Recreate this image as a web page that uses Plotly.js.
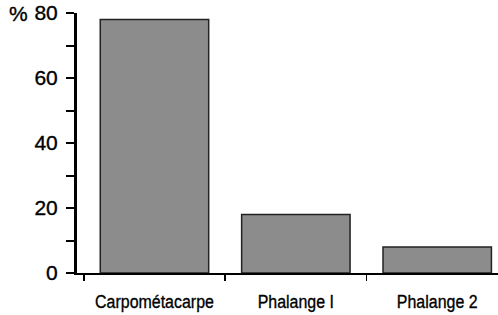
<!DOCTYPE html>
<html><head><meta charset="utf-8">
<script src="https://cdn.plot.ly/plotly-3.0.1.min.js"></script>
<style>html,body{margin:0;padding:0;background:#fff}#c{width:498px;height:315px}
#c .xtick text, #c .ytick text, #c .annotation-text {stroke:#000; stroke-width:0.35px}</style>
</head><body><div id="c"></div>
<script>
const categories = ["Carpométacarpe", "Phalange I", "Phalange 2"];
const values = [78, 18, 8];
const yTickVals = [0, 20, 40, 60, 80];
const yTickText = ["0", "20", "40", "60", "80"];

const trace = {
  type: "bar", x: categories, y: values,
  marker: {color: "#8c8c8c", line: {color: "#222", width: 1.5}},
  hoverinfo: "skip"
};
const layout = {
  width: 498, height: 315,
  margin: {l: 77, r: 0, t: 13, b: 42},
  paper_bgcolor: "#fff", plot_bgcolor: "#fff",
  showlegend: false, bargap: 0.233,
  font: {family: "Liberation Sans, Arial, sans-serif", color: "#000"},
  xaxis: {
    type: "category", range: [-0.548, 2.43],
    showline: true, linecolor: "#000", linewidth: 2,
    ticks: "outside", tickson: "boundaries", ticklen: 6, tickwidth: 1.5, tickcolor: "#000",
    showgrid: false, zeroline: false, tickangle: 0,
    tickfont: {size: 19, color: "#000"},
    ticklabelstandoff: 10
  },
  yaxis: {
    range: [0, 80], tickvals: yTickVals, ticktext: yTickText,
    showline: true, linecolor: "#000", linewidth: 3,
    ticks: "outside", ticklen: 8, tickwidth: 2, tickcolor: "#000",
    minor: {tickvals: [10, 30, 50, 70], ticks: "outside", ticklen: 8, tickwidth: 2, tickcolor: "#000"},
    showgrid: false, zeroline: false,
    tickfont: {size: 21, color: "#000"}, ticklabelstandoff: 4
  },
  annotations: [{
    text: "%", xref: "paper", yref: "y", x: 0, y: 80, xanchor: "right", yanchor: "middle",
    xshift: -47, showarrow: false, font: {size: 21, color: "#000"}
  }]
};
Plotly.newPlot("c", [trace], layout, {staticPlot: true, displayModeBar: false}).then(gd => {
  gd.querySelectorAll(".xtick text").forEach(t => {
    const b = t.getBBox();
    const cx = b.x + b.width / 2;
    const prev = t.getAttribute("transform") || "";
    t.setAttribute("transform", prev + ` translate(${cx},0) scale(0.84,1) translate(${-cx},0)`);
  });
});
</script></body></html>
